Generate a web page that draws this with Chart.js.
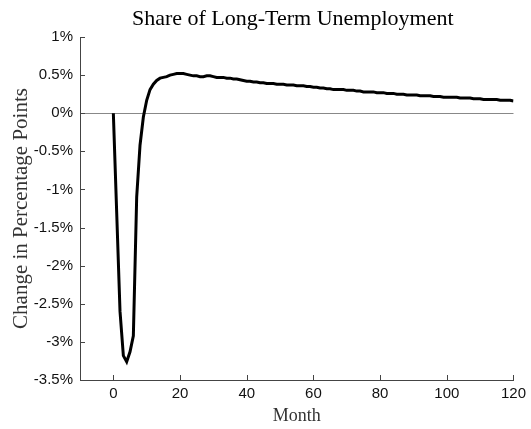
<!DOCTYPE html>
<html lang="en">

<head>
    <meta charset="UTF-8" />
    <title>Share of Long-Term Unemployment</title>
    <script src="https://cdn.jsdelivr.net/npm/chart.js"></script>
    <style>
        html, body { margin: 0; padding: 0; background: #fff; }
        .grafico-container { width: 531px; height: 429px; }
    </style>
</head>

<body>
    <div class="grafico-container">
        <canvas id="grafico"></canvas>
    </div>

    <script>
        // change in share of long-term unemployment, percentage points, months 0..120
        const shareChange = [
            0, -1.3, -2.6, -3.18, -3.26, -3.13, -2.92, -1.1, -0.42, -0.05,
            0.17, 0.31, 0.38, 0.43, 0.46, 0.47, 0.48, 0.50, 0.51, 0.52,
            0.52, 0.52, 0.51, 0.50, 0.49, 0.49, 0.48, 0.48, 0.49, 0.49,
            0.48, 0.47, 0.47, 0.47, 0.46, 0.46, 0.45, 0.45, 0.44, 0.43,
            0.42, 0.42, 0.41, 0.41, 0.40, 0.40, 0.39, 0.39, 0.39, 0.38,
            0.38, 0.38, 0.37, 0.37, 0.37, 0.36, 0.36, 0.36, 0.35, 0.35,
            0.34, 0.34, 0.33, 0.33, 0.32, 0.32, 0.31, 0.31, 0.31, 0.31,
            0.30, 0.30, 0.30, 0.29, 0.29, 0.28, 0.28, 0.28, 0.28, 0.27,
            0.27, 0.27, 0.26, 0.26, 0.26, 0.25, 0.25, 0.25, 0.24, 0.24,
            0.24, 0.24, 0.23, 0.23, 0.23, 0.23, 0.22, 0.22, 0.22, 0.21,
            0.21, 0.21, 0.21, 0.21, 0.20, 0.20, 0.20, 0.20, 0.19, 0.19,
            0.19, 0.18, 0.18, 0.18, 0.18, 0.18, 0.17, 0.17, 0.17, 0.17,
            0.16
        ];
        const months = shareChange.map((_, i) => i);
        const xTicks = [0, 20, 40, 60, 80, 100, 120];
        const yTicks = [-3.5, -3, -2.5, -2, -1.5, -1, -0.5, 0, 0.5, 1];
        const chartTitle = 'Share of Long-Term Unemployment';

        const axisColor = '#444';
        const serif = "'Liberation Serif', 'DejaVu Serif', serif";
        const sans = "'Liberation Sans', Arial, sans-serif";

        // inward tick marks + title centred over the plot, like the original figure
        const figureExtras = {
            id: 'figureExtras',
            afterDatasetsDraw(chart) {
                const { ctx, chartArea, scales } = chart;
                ctx.save();
                ctx.strokeStyle = axisColor;
                ctx.lineWidth = 1;
                ctx.beginPath();
                xTicks.forEach(v => {
                    const px = Math.round(scales.x.getPixelForValue(v)) + 0.5;
                    ctx.moveTo(px, chartArea.bottom);
                    ctx.lineTo(px, chartArea.bottom - 5);
                });
                yTicks.forEach(v => {
                    const py = Math.round(scales.y.getPixelForValue(v)) + 0.5;
                    ctx.moveTo(chartArea.left, py);
                    ctx.lineTo(chartArea.left + 5, py);
                });
                ctx.stroke();

                ctx.fillStyle = '#000';
                ctx.font = '22px ' + serif;
                ctx.textAlign = 'center';
                ctx.textBaseline = 'middle';
                ctx.fillText(chartTitle, (chartArea.left + chartArea.right) / 2 - 4, 19);
                ctx.restore();
            }
        };

        const ctx = document.getElementById('grafico').getContext('2d');
        new Chart(ctx, {
            type: 'line',
            data: {
                datasets: [{
                    data: months.map((m, i) => ({ x: m, y: shareChange[i] })),
                    borderColor: '#000',
                    borderWidth: 3,
                    pointRadius: 0,
                    tension: 0,
                    fill: false
                }]
            },
            options: {
                responsive: true,
                maintainAspectRatio: false,
                animation: false,
                layout: { padding: { left: 0, right: 15, top: 37, bottom: 0 } },
                plugins: {
                    legend: { display: false },
                    tooltip: { enabled: false },
                    title: { display: false }
                },
                scales: {
                    x: {
                        type: 'linear',
                        min: -10,
                        max: 120,
                        afterBuildTicks: s => { s.ticks = xTicks.map(v => ({ value: v })); },
                        afterFit: s => { s.height = 49; },
                        ticks: {
                            color: '#111',
                            font: { family: sans, size: 15 },
                            padding: 5,
                            maxRotation: 0
                        },
                        grid: { display: false, drawTicks: false },
                        border: { display: true, color: axisColor, width: 1 },
                        title: {
                            display: true,
                            text: 'Month',
                            color: '#333',
                            font: { family: serif, size: 18 },
                            padding: { top: 0, bottom: 2 }
                        }
                    },
                    y: {
                        min: -3.5,
                        max: 1,
                        afterBuildTicks: s => { s.ticks = yTicks.map(v => ({ value: v })); },
                        afterFit: s => { s.width = 80; },
                        ticks: {
                            color: '#111',
                            font: { family: sans, size: 15 },
                            padding: 7,
                            callback: v => v + '%'
                        },
                        grid: {
                            drawTicks: false,
                            color: c => (c.tick && c.tick.value === 0) ? '#888' : 'rgba(0,0,0,0)',
                            lineWidth: 1
                        },
                        border: { display: true, color: axisColor, width: 1 },
                        title: {
                            display: true,
                            text: 'Change in Percentage Points',
                            color: '#333',
                            font: { family: serif, size: 21 },
                            padding: { top: 9, bottom: 0 }
                        }
                    }
                }
            },
            plugins: [figureExtras]
        });
    </script>
</body>

</html>
